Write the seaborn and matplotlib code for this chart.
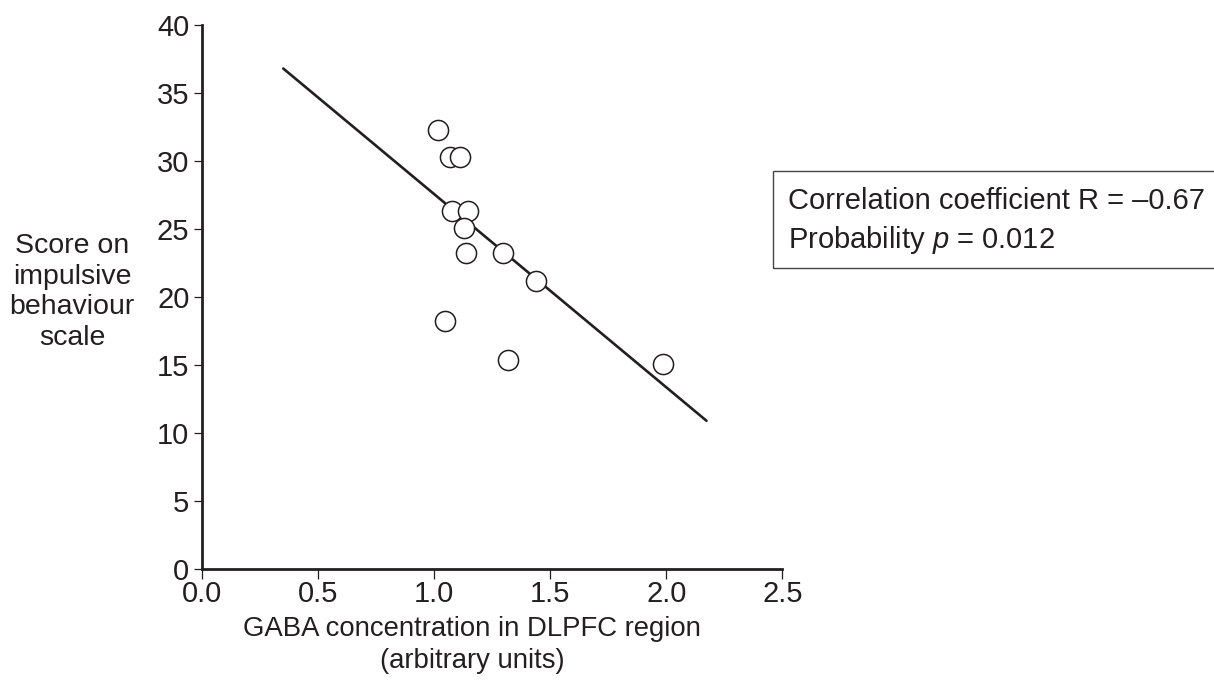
import matplotlib
matplotlib.use("Agg")
import pandas as pd
import seaborn as sns
from matplotlib import pyplot as plt
from matplotlib.patches import Rectangle

# Data
gaba = [1.018, 1.067, 1.112, 1.075, 1.147, 1.128, 1.136, 1.295, 1.437, 1.048, 1.319, 1.987]
score = [32.3, 30.3, 30.3, 26.3, 26.3, 25.1, 23.2, 23.2, 21.2, 18.2, 15.4, 15.05]

# Fitted line end points
line_x = [0.35, 2.173]
line_y = [36.8, 10.9]

x_ticks = [0.0, 0.5, 1.0, 1.5, 2.0, 2.5]
y_ticks = [0, 5, 10, 15, 20, 25, 30, 35, 40]

ink = "#231f20"

sns.set_style("ticks")
plt.rcParams["font.family"] = ["Liberation Sans", "DejaVu Sans"]
plt.rcParams["mathtext.fontset"] = "custom"
plt.rcParams["mathtext.rm"] = "Liberation Sans"
plt.rcParams["mathtext.it"] = "Liberation Sans:italic"
plt.rcParams["text.color"] = ink

df = pd.DataFrame({"gaba": gaba, "score": score})
line_df = pd.DataFrame({"x": line_x, "y": line_y})

fig = plt.figure(figsize=(12.14, 6.82), dpi=100)
ax = fig.add_axes([202 / 1214, 1 - 569 / 682, 580.4 / 1214, 544 / 682])

sns.lineplot(data=line_df, x="x", y="y", ax=ax, color=ink, linewidth=1.9)
sns.scatterplot(data=df, x="gaba", y="score", ax=ax, s=210,
                facecolor="white", edgecolor=ink, linewidth=1.1, zorder=3)

ax.set_xlim(0, 2.5)
ax.set_ylim(0, 40)
ax.set_xticks(x_ticks)
ax.set_xticklabels([f"{v:.1f}" for v in x_ticks])
ax.set_yticks(y_ticks)
ax.set_xlabel("")
ax.set_ylabel("")

sns.despine(ax=ax)
for side in ["left", "bottom"]:
    ax.spines[side].set_linewidth(2.0)
    ax.spines[side].set_color(ink)
ax.tick_params(axis="x", length=7, width=0.9, pad=1, labelsize=21, colors=ink)
ax.tick_params(axis="y", length=6, width=0.9, pad=3, labelsize=21, colors=ink)

# Axis titles
fig.text(72 / 1214, 1 - 292 / 682, "Score on\nimpulsive\nbehaviour\nscale",
         ha="center", va="center", fontsize=20.5, linespacing=1.22)
fig.text(472 / 1214, 1 - 645 / 682,
         "GABA concentration in DLPFC region\n(arbitrary units)",
         ha="center", va="center", fontsize=19.8, linespacing=1.3)

# Stats box
fig.patches.append(Rectangle((773 / 1214, 1 - 268.3 / 682), 460 / 1214, 97.6 / 682,
                             transform=fig.transFigure, fill=False,
                             edgecolor="#444444", linewidth=1.0))
fig.text(788 / 1214, 1 - 201 / 682, "Correlation coefficient R = \u20130.67",
         ha="left", va="center", fontsize=21)
fig.text(788 / 1214, 1 - 240 / 682, "Probability $p$ = 0.012",
         ha="left", va="center", fontsize=21)

fig.savefig("out.png", dpi=100)
